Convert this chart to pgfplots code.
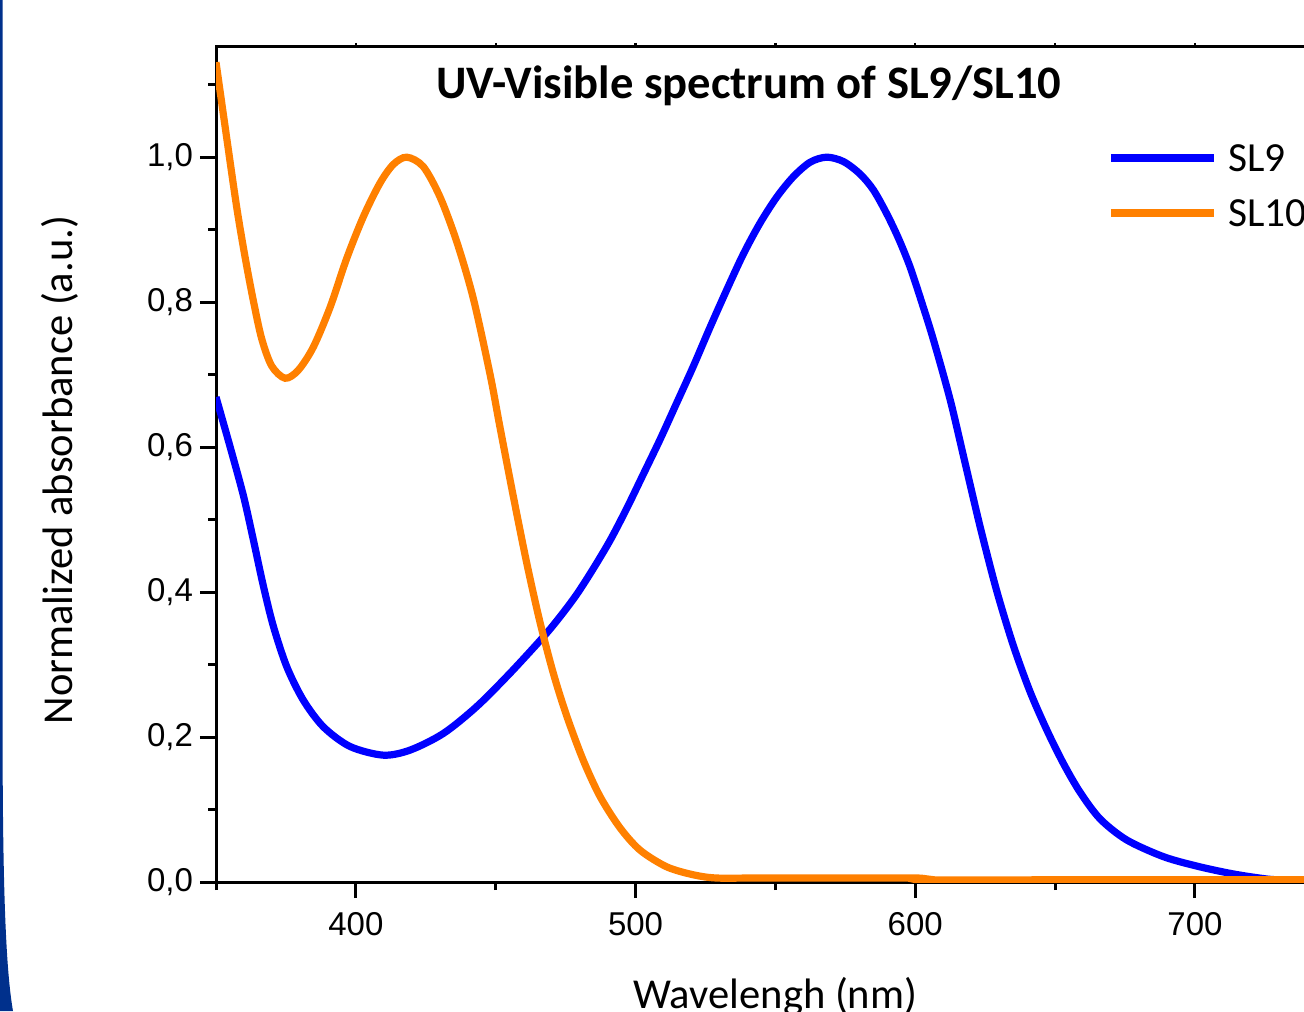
\documentclass[border=0pt]{standalone}
\usepackage{pgfplots}
\pgfplotsset{compat=1.18}
\usepackage{fontspec}
\setmainfont{Carlito}
\newfontfamily\arialf{Liberation Sans}
\definecolor{sbl}{RGB}{0,0,255}
\definecolor{sor}{RGB}{255,128,0}
\definecolor{navy}{RGB}{0,48,140}
\pgfplotstableread{
x y
350 0.669
355 0.601
359.8 0.533
363.3 0.473
366.9 0.409
370.5 0.353
375.3 0.297
381.2 0.251
388.4 0.214
397.9 0.187
409.8 0.175
419.4 0.182
431.3 0.205
443.2 0.242
455.1 0.288
467 0.338
473 0.366
479 0.397
485 0.433
491 0.472
496.8 0.515
502.7 0.562
508.7 0.610
514.6 0.660
520.6 0.711
526.6 0.765
532.6 0.817
538.5 0.866
544.5 0.909
550.5 0.945
556.4 0.973
562.4 0.993
568.3 1.000
574.3 0.994
580.2 0.977
585 0.955
589.8 0.922
594 0.888
598.1 0.849
602.3 0.800
606.5 0.748
612.5 0.665
617.7 0.580
623.2 0.490
629.1 0.402
635 0.327
641 0.263
647 0.210
652.9 0.164
658.9 0.124
666.1 0.087
675.6 0.058
688.7 0.035
700.6 0.022
712.5 0.012
722.1 0.006
730 0.003
750 0.003
}\slnine
\pgfplotstableread{
x y
350 1.131
353.7 1.030
357.4 0.931
360.4 0.862
363.3 0.803
366.3 0.750
369.9 0.712
374.7 0.695
379.4 0.706
384.8 0.738
390.8 0.793
396.7 0.860
402.7 0.918
408.6 0.964
413.4 0.990
418.2 1.000
424.1 0.987
430.1 0.945
436.1 0.883
442 0.805
448 0.700
451.5 0.628
456.3 0.532
461.1 0.440
465.8 0.359
470.6 0.288
475.4 0.229
481.3 0.168
487.3 0.118
494.4 0.075
501.6 0.044
511.1 0.021
520.6 0.010
529 0.0055
545 0.0055
600 0.0055
602 0.003
650 0.003
700 0.003
750 0.003
}\slten
\begin{document}
\begin{tikzpicture}
\path (0pt,0pt) rectangle (652pt,505.5pt);
\clip (0pt,0pt) rectangle (652pt,505.5pt);
\fill[navy] (0pt,0pt) -- (0pt,505.5pt) -- (1.3pt,505.5pt) -- (1.3pt,140pt) .. controls (1.3pt,60pt) and (3pt,20pt) .. (6.5pt,0pt) -- cycle;
\begin{pgfinterruptboundingbox}
\begin{axis}[
  at={(108pt,64.5pt)}, anchor=south west,
  scale only axis, width=559.4pt, height=417.5pt,
  xmin=350, xmax=750, ymin=0, ymax=1.152,
  axis x line*=top, axis y line=none,
  xtick={400,500,600,700}, minor xtick={450,550,650},
  xticklabels={},
  tick align=outside, major tick length=2pt, minor tick length=2pt,
  every tick/.style={black, line width=1.2pt},
  axis line style={line width=1.5pt},
]
\end{axis}
\begin{axis}[
  at={(108pt,64.5pt)}, anchor=south west,
  scale only axis, width=559.4pt, height=417.5pt,
  xmin=350, xmax=750, ymin=0, ymax=1.152,
  axis line style={line width=1.5pt},
  tick pos=left, tick align=outside,
  xtick={400,500,600,700}, minor xtick={350,450,550,650,750},
  ytick={0,0.2,0.4,0.6,0.8,1.0}, minor ytick={0.1,0.3,0.5,0.7,0.9,1.1},
  major tick length=8pt, minor tick length=4pt,
  every tick/.style={black, line width=1.5pt},
  /pgf/number format/assume math mode=true,
  tick label style={font=\arialf\fontsize{16.5}{19}\selectfont},
  yticklabel style={/pgf/number format/.cd, fixed, fixed zerofill, precision=1, use comma},
  xticklabel style={yshift=-3.5pt, /pgf/number format/.cd, set thousands separator={}},
  xlabel={Wavelengh (nm)}, ylabel={Normalized absorbance (a.u.)},
  every axis x label/.append style={at={(axis description cs:0.5,-0.152)}, anchor=base, font=\fontsize{21.3}{25}\selectfont},
  every axis y label/.append style={at={(axis description cs:-0.1394,0.4934)}, anchor=center, font=\fontsize{21.3}{25}\selectfont},
  title={\bfseries UV-Visible spectrum of SL9/SL10},
  every axis title/.append style={font=\fontsize{23.3}{27}\selectfont, at={(axis description cs:0.4764,0.9234)}, anchor=base, yshift=0pt},
  legend image code/.code={\draw[#1] (0pt,0pt) -- (51.5pt,0pt);},
  legend style={at={(axis cs:668.5,1.018)}, anchor=north west, draw=none, fill=none,
    inner sep=0pt, font=\fontsize{20.7}{24}\selectfont,
    nodes={inner sep=0pt, text height=13.4pt, text depth=0pt},
    column sep=5.5pt, row sep=14.1pt},
  legend cell align=left,
]
\addplot[sbl, line width=3.6pt, smooth, tension=0.5] table[x=x,y=y] {\slnine};
\addlegendentry{SL9}
\addplot[sor, line width=3.6pt, smooth, tension=0.5] table[x=x,y=y] {\slten};
\addlegendentry{SL10}
\end{axis}
\end{pgfinterruptboundingbox}
\end{tikzpicture}
\end{document}
